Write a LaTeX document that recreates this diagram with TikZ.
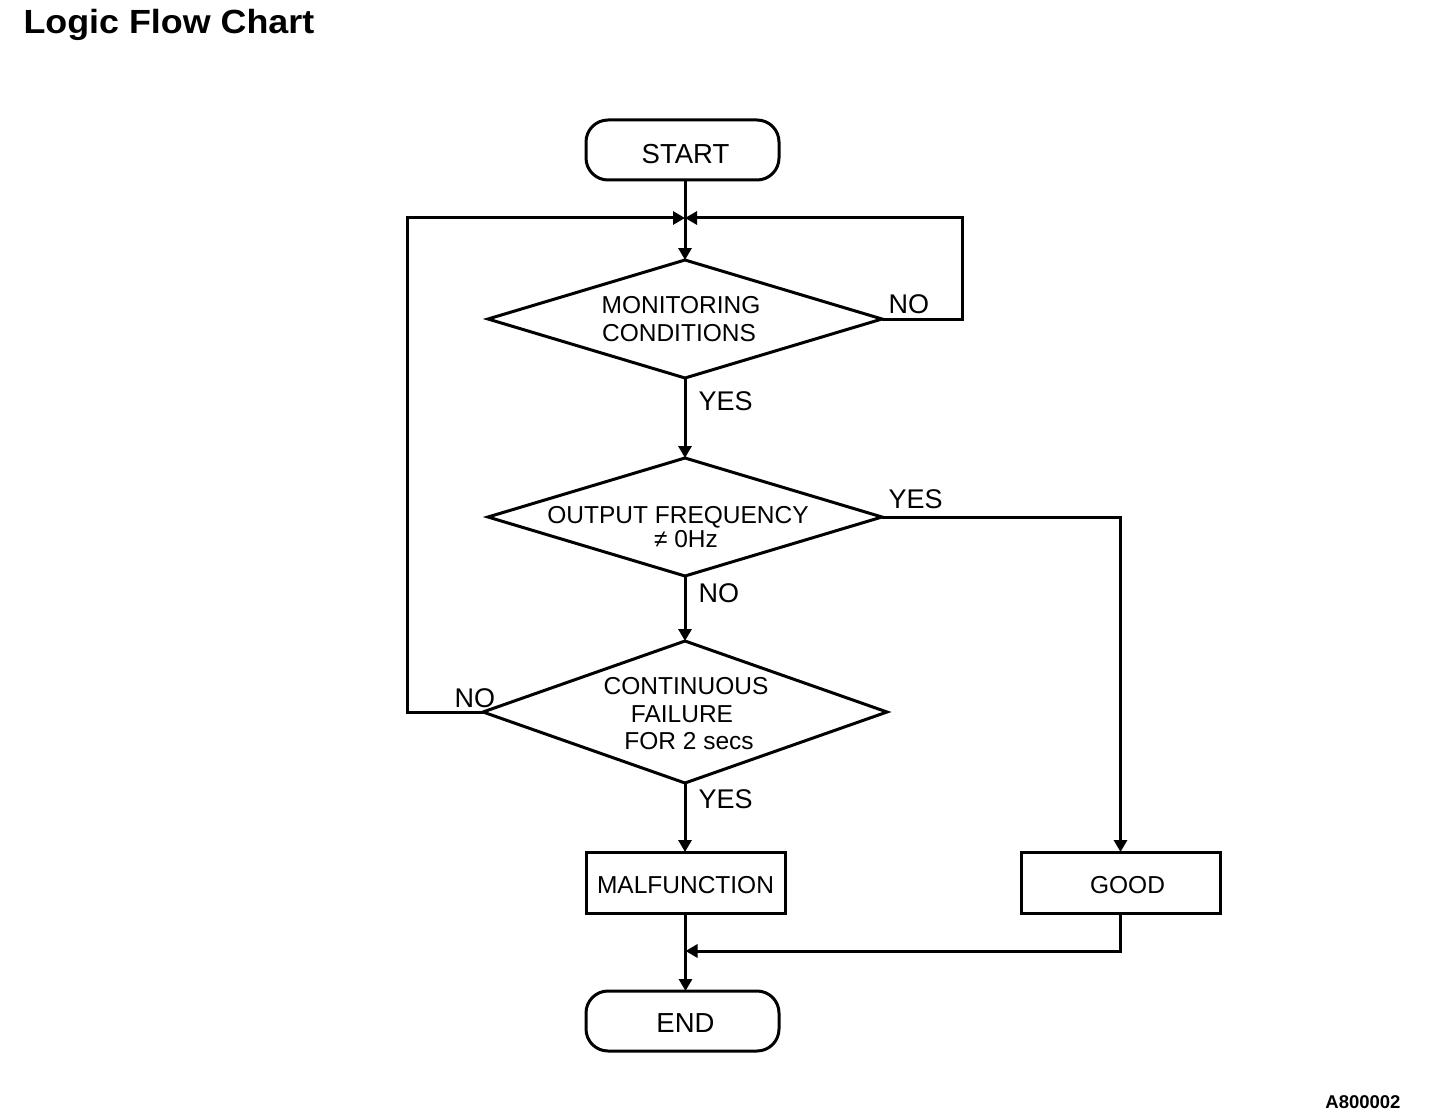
\documentclass[tikz,border=0pt]{standalone}
\usepackage{fontspec}
\setmainfont{Liberation Sans}
\newfontfamily\titlefont[FakeStretch=1.07]{Liberation Sans}
\usetikzlibrary{arrows.meta,shapes.geometric}
\begin{document}
\begin{tikzpicture}[x=1pt,y=-1pt,line width=3pt,
  term/.style={draw,rounded corners=22pt,minimum width=193pt,minimum height=60pt,inner sep=0pt,outer sep=0pt},
  proc/.style={draw,minimum width=199pt,minimum height=61pt,inner sep=0pt,outer sep=0pt},
  dec/.style={draw,diamond,inner sep=0pt,outer sep=0pt,minimum width=394pt,minimum height=118pt},
  txt/.style={inner sep=0pt,anchor=base,font=\fontsize{24.5}{28}\selectfont},
  bigtxt/.style={inner sep=0pt,anchor=base,font=\fontsize{27.5}{30}\selectfont},
  lab/.style={inner sep=0pt,anchor=base west,font=\fontsize{27}{30}\selectfont},
  arr/.style={-{Triangle[length=12pt,width=13pt]}}]
\useasboundingbox (0,0) rectangle (1440,1118);
\fill[white] (0,0) rectangle (1440,1118);

% title and code
\node[anchor=base west,inner sep=0pt,font={\titlefont\bfseries\fontsize{33.5}{36}\selectfont}] (title) at (22,33.5) {Logic Flow Chart};
\node[anchor=base east,inner sep=0pt,font={\bfseries\fontsize{18.5}{20}\selectfont}] (code) at (1402,1108) {A800002};

% shapes
\node[term] (start) at (682.5,150) {};
\node[dec] (d1) at (685,319) {};
\node[dec] (d2) at (685,517) {};
\node[dec,minimum width=404pt,minimum height=142pt] (d3) at (685,712) {};
\node[proc] (mal) at (685.5,882.5) {};
\node[proc] (good) at (1120.5,882.5) {};
\node[term] (end) at (682.5,1021) {};

% texts
\node[bigtxt] (tstart) at (685.5,164) {START};
\node[txt] (t1a) at (681,313) {MONITORING};
\node[txt] (t1b) at (679,341) {CONDITIONS};
\node[txt] (t2a) at (678,523) {OUTPUT FREQUENCY};
\node[txt] (t2b) at (686,547) {≠ 0Hz};
\node[txt] (t3a) at (686,694) {CONTINUOUS};
\node[txt] (t3b) at (682,722) {FAILURE};
\node[txt] (t3c) at (689,749) {FOR 2 secs};
\node[txt] (tmal) at (685.5,893) {MALFUNCTION};
\node[txt] (tgood) at (1127.5,893) {GOOD};
\node[bigtxt] (tend) at (685.5,1032) {END};

% labels
\node[lab] (y1) at (697,410) {YES};
\node[lab] (n1) at (887,313) {NO};
\node[lab] (y2) at (887,508) {YES};
\node[lab] (n2) at (697,602) {NO};
\node[lab] (n3) at (453,707) {NO};
\node[lab] (y3) at (697,808) {YES};

% connectors
\coordinate (j) at (685,218);
\coordinate (rr) at (962,218);
\coordinate (ll) at (407,218);
\coordinate (m) at (685.5,951);
\draw (start.south -| j) -- (j);
\draw[arr] (j) -- (d1.north);
\draw[arr] (d1.east) -| (rr) -- (j);
\draw[arr] (d3.west) -| (ll) -- (j);
\draw[arr] (d1.south) -- (d2.north);
\draw[arr] (d2.south) -- (d3.north);
\draw[arr] (d3.south) -- (d3.south |- mal.north);
\draw[arr] (d2.east) -| (good.north);
\draw[arr] (mal.south) -- (mal.south |- end.north);
\draw[arr] (good.south) |- (m);
\end{tikzpicture}
\end{document}
